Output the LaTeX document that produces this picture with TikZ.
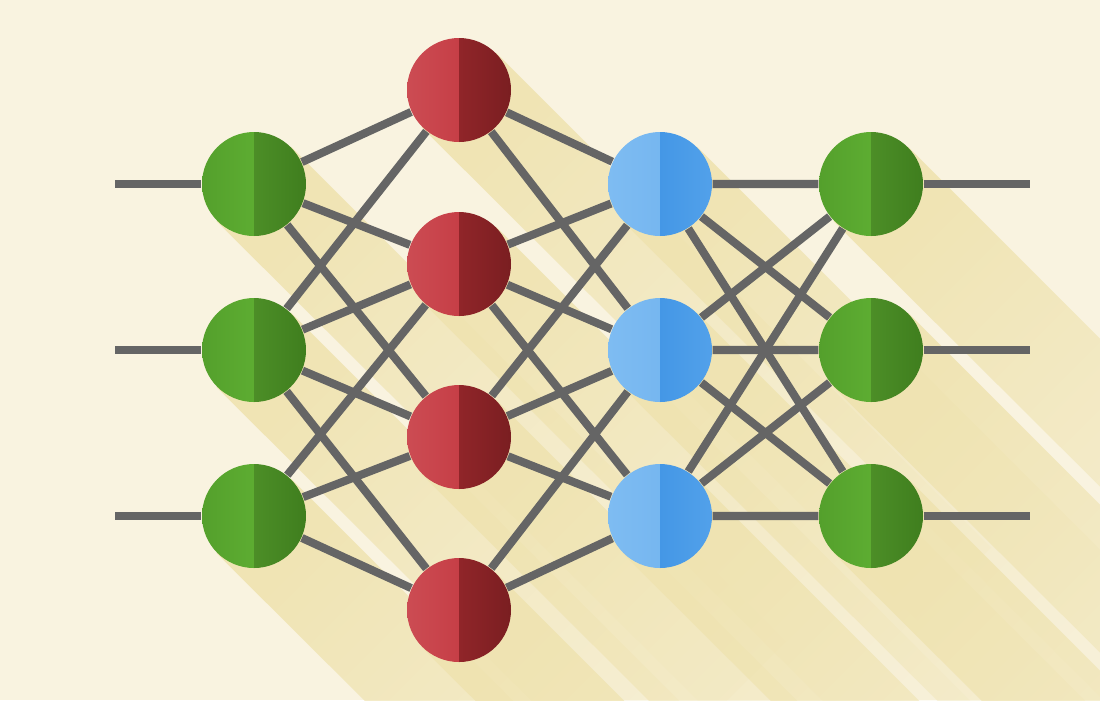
\documentclass[tikz,border=0pt]{standalone}
\usetikzlibrary{fadings}
\definecolor{paper}{HTML}{F9F3E0}
\definecolor{shadowyel}{HTML}{EFE3B0}
\definecolor{wire}{HTML}{656565}
\definecolor{grnA}{HTML}{54A02C}\definecolor{grnB}{HTML}{66B937}
\definecolor{grnC}{HTML}{4C8E27}\definecolor{grnD}{HTML}{3F7E1E}
\definecolor{redA}{HTML}{CC4C53}\definecolor{redB}{HTML}{C0313A}
\definecolor{redC}{HTML}{902529}\definecolor{redD}{HTML}{7A1E21}
\definecolor{bluA}{HTML}{7EBCF2}\definecolor{bluB}{HTML}{6EB1EE}
\definecolor{bluC}{HTML}{4497E6}\definecolor{bluD}{HTML}{52A1EA}
\pgfdeclarelayer{shadows}
\pgfdeclarelayer{links}
\pgfsetlayers{shadows,links,main}
\tikzfading[name=shadowfade,left color=transparent!10,right color=transparent!85]
\tikzset{
  neuron/.style n args={4}{circle,minimum size=10.4mm,inner sep=0pt,
    path picture={
      \shade[left color=#1,right color=#2] (path picture bounding box.south west) rectangle (path picture bounding box.north);
      \shade[left color=#3,right color=#4] (path picture bounding box.south) rectangle (path picture bounding box.north east);}},
  inneuron/.style={neuron={grnA}{grnB}{grnC}{grnD}},
  redneuron/.style={neuron={redA}{redB}{redC}{redD}},
  bluneuron/.style={neuron={bluA}{bluB}{bluC}{bluD}},
  link/.style={wire,line width=2.3pt},
  longshadow/.style={fill=shadowyel,path fading=shadowfade,fading angle=-45}
}
\newcommand{\castshadow}[1]{\fill[longshadow] (#1.45) -- ++(-45:7) -- ++(-135:1.04) -- (#1.225) -- cycle;}

\begin{document}
\begin{tikzpicture}
  \useasboundingbox (0,0) rectangle (11,7);
  % network nodes
  \node[inneuron] (in1) at (2.54,5.16) {};
  \node[inneuron] (in2) at (2.54,3.50) {};
  \node[inneuron] (in3) at (2.54,1.84) {};
  \node[redneuron] (h1) at (4.59,6.10) {};
  \node[redneuron] (h2) at (4.59,4.36) {};
  \node[redneuron] (h3) at (4.59,2.63) {};
  \node[redneuron] (h4) at (4.59,0.90) {};
  \node[bluneuron] (g1) at (6.60,5.16) {};
  \node[bluneuron] (g2) at (6.60,3.50) {};
  \node[bluneuron] (g3) at (6.60,1.84) {};
  \node[inneuron] (out1) at (8.71,5.16) {};
  \node[inneuron] (out2) at (8.71,3.50) {};
  \node[inneuron] (out3) at (8.71,1.84) {};
  \coordinate (x1) at (1.15,5.16);
  \coordinate (x2) at (1.15,3.50);
  \coordinate (x3) at (1.15,1.84);
  \coordinate (y1) at (10.30,5.16);
  \coordinate (y2) at (10.30,3.50);
  \coordinate (y3) at (10.30,1.84);
  % background and long shadows
  \begin{pgfonlayer}{shadows}
    \fill[paper] (0,0) rectangle (11,7);
    \castshadow{in1}\castshadow{in2}\castshadow{in3}
    \castshadow{h1}\castshadow{h2}\castshadow{h3}\castshadow{h4}
    \castshadow{g1}\castshadow{g2}\castshadow{g3}
    \castshadow{out1}\castshadow{out2}\castshadow{out3}
  \end{pgfonlayer}
  % connections
  \begin{pgfonlayer}{links}
    \draw[link] (x1) -- (in1) (x2) -- (in2) (x3) -- (in3);
    \draw[link] (out1) -- (y1) (out2) -- (y2) (out3) -- (y3);
    \draw[link] (in1) -- (h1) (in1) -- (h2) (in1) -- (h3);
    \draw[link] (in2) -- (h1) (in2) -- (h2) (in2) -- (h3) (in2) -- (h4);
    \draw[link] (in3) -- (h2) (in3) -- (h3) (in3) -- (h4);
    \draw[link] (h1) -- (g1) (h1) -- (g2);
    \draw[link] (h2) -- (g1) (h2) -- (g2) (h2) -- (g3);
    \draw[link] (h3) -- (g1) (h3) -- (g2) (h3) -- (g3);
    \draw[link] (h4) -- (g2) (h4) -- (g3);
    \draw[link] (g1) -- (out1) (g1) -- (out2) (g1) -- (out3);
    \draw[link] (g2) -- (out1) (g2) -- (out2) (g2) -- (out3);
    \draw[link] (g3) -- (out1) (g3) -- (out2) (g3) -- (out3);
  \end{pgfonlayer}
\end{tikzpicture}
\end{document}
